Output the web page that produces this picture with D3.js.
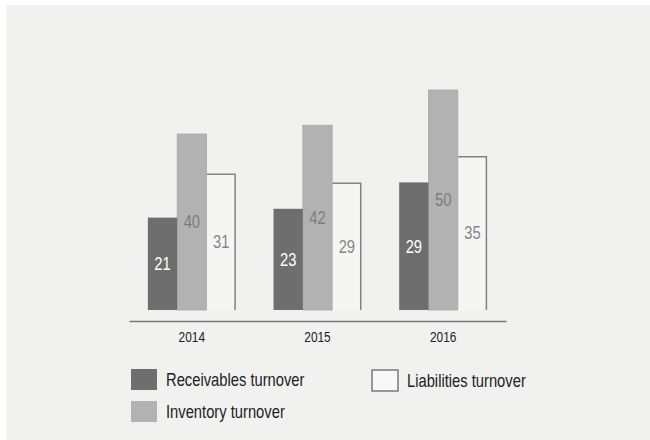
<!DOCTYPE html>
<html>
<head>
<meta charset="utf-8">
<script src="https://cdn.jsdelivr.net/npm/d3@7"></script>
<style>
  body { margin: 0; background: #fff; }
  svg { display: block; font-family: "Liberation Sans", Arial, sans-serif; }
</style>
</head>
<body>
<svg id="chart" width="650" height="440"></svg>
<script>
// data
let years = ["2014", "2015", "2016"];
let receivables = [21, 23, 29];
let inventory = [40, 42, 50];
let liabilities = [31, 29, 35];
let seriesNames = ["Receivables turnover", "Inventory turnover", "Liabilities turnover"];

// the original uses a narrow Arial; squeeze Liberation Sans to match
let narrow = "scale(0.82,1)";

let svg = d3.select("#chart");

// gray panel behind the chart
svg.append("rect")
  .attr("x", 6).attr("y", 5)
  .attr("width", 644).attr("height", 435)
  .attr("fill", "#f1f1f0");

// scales
let x = d3.scaleBand()
  .domain(years)
  .range([129, 506])
  .paddingInner(0.3)
  .paddingOuter(0.15);

let x1 = d3.scaleBand()
  .domain([0, 1, 2])
  .range([0, x.bandwidth()]);

let y = d3.scaleLinear().domain([0, 50]).range([310, 90]);

let rows = years.map(function(yr, i) {
  return { year: yr, values: [receivables[i], inventory[i], liabilities[i]] };
});

let groups = svg.append("g")
  .selectAll("g")
  .data(rows)
  .enter()
  .append("g")
  .attr("transform", function(d) { return "translate(" + x(d.year) + ",0)"; });

// liabilities: open bar, only top and right edges drawn
groups.append("rect")
  .attr("x", x1(2))
  .attr("y", function(d) { return y(d.values[2]); })
  .attr("width", x1.bandwidth())
  .attr("height", function(d) { return y(0) - y(d.values[2]); })
  .attr("fill", "#f5f5f4");
groups.append("path")
  .attr("d", function(d) {
    let l = x1(2), r = x1(2) + x1.bandwidth() - 0.75, t = y(d.values[2]) + 0.75;
    return "M" + l + "," + t + "H" + r + "V" + y(0);
  })
  .attr("fill", "none")
  .attr("stroke", "#828282")
  .attr("stroke-width", 1.5);

// inventory
groups.append("rect")
  .attr("x", x1(1))
  .attr("y", function(d) { return y(d.values[1]); })
  .attr("width", x1.bandwidth())
  .attr("height", function(d) { return y(0) - y(d.values[1]); })
  .attr("fill", "#b2b2b2")
  .attr("stroke", "#a8a8a8")
  .attr("stroke-width", 0.8);

// receivables
groups.append("rect")
  .attr("x", x1(0))
  .attr("y", function(d) { return y(d.values[0]); })
  .attr("width", x1.bandwidth())
  .attr("height", function(d) { return y(0) - y(d.values[0]); })
  .attr("fill", "#6e6e6e");

// value labels in the middle of each bar
let labelColors = ["#ffffff", "#7c7c7c", "#858585"];
[0, 1, 2].forEach(function(k) {
  groups.append("text")
    .attr("transform", function(d) {
      let cx = x1(k) + x1.bandwidth() / 2;
      let cy = (y(d.values[k]) + y(0)) / 2;
      return "translate(" + cx + "," + cy + ")" + narrow;
    })
    .attr("dy", "0.35em")
    .attr("text-anchor", "middle")
    .attr("font-size", 18)
    .attr("fill", labelColors[k])
    .text(function(d) { return d.values[k]; });
});

// x axis
let axis = svg.append("g")
  .attr("transform", "translate(0,321)")
  .call(d3.axisBottom(x).tickSize(0).tickPadding(11));
axis.select(".domain").attr("stroke", "#7a7a7a").attr("stroke-width", 1.5);
axis.selectAll("text")
  .attr("font-family", "Liberation Sans, Arial, sans-serif")
  .attr("font-size", 14.5)
  .attr("fill", "#222")
  .attr("transform", narrow);

// legend
let legendItems = [
  { name: seriesNames[0], x: 131, y: 369, fill: "#6e6e6e", stroke: "none" },
  { name: seriesNames[1], x: 131, y: 401, fill: "#b2b2b2", stroke: "none" },
  { name: seriesNames[2], x: 372, y: 370, fill: "#f8f8f8", stroke: "#7a7a7a" }
];
let legend = svg.append("g")
  .selectAll("g")
  .data(legendItems)
  .enter()
  .append("g")
  .attr("transform", function(d) { return "translate(" + d.x + "," + d.y + ")"; });
legend.append("rect")
  .attr("width", 26)
  .attr("height", 21)
  .attr("fill", function(d) { return d.fill; })
  .attr("stroke", function(d) { return d.stroke; })
  .attr("stroke-width", 1.5);
legend.append("text")
  .attr("transform", "translate(35,10.5)" + narrow)
  .attr("dy", "0.35em")
  .attr("font-size", 18)
  .attr("fill", "#222")
  .text(function(d) { return d.name; });
</script>
</body>
</html>
